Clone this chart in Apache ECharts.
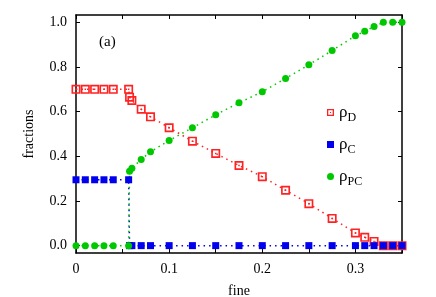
<!DOCTYPE html>
<html>
<head>
<meta charset="utf-8">
<script src="https://cdn.jsdelivr.net/npm/echarts@6/dist/echarts.min.js"></script>
<style>html,body{margin:0;padding:0;background:#fff;}#c{width:436px;height:297px;}</style>
</head>
<body>
<div id="c"></div>
<script>
var fine = [0, 0.01, 0.02, 0.03, 0.04, 0.0565, 0.0575, 0.06, 0.07, 0.08, 0.1, 0.125, 0.15, 0.175, 0.2, 0.225, 0.25, 0.275, 0.3, 0.31, 0.32, 0.33, 0.34, 0.35];
var rhoD = [0.70, 0.70, 0.70, 0.70, 0.70, 0.70, 0.665, 0.65, 0.611, 0.577, 0.528, 0.468, 0.413, 0.359, 0.309, 0.248, 0.188, 0.122, 0.057, 0.037, 0.019, 0, 0, 0];
var rhoC = [0.295, 0.295, 0.295, 0.295, 0.295, 0.295, 0, 0, 0, 0, 0, 0, 0, 0, 0, 0, 0, 0, 0, 0, 0, 0, 0, 0];
var rhoPC = [0, 0, 0, 0, 0, 0, 0.333, 0.347, 0.386, 0.42, 0.471, 0.528, 0.586, 0.64, 0.689, 0.749, 0.81, 0.874, 0.94, 0.96, 0.981, 1.0, 1.0, 1.0];
var xLabels = [0, 0.1, 0.2, 0.3];
var xTicks = [0, 0.05, 0.1, 0.15, 0.2, 0.25, 0.3, 0.35];
var yTicks = [0, 0.2, 0.4, 0.6, 0.8, 1.0];
var names = ['ρD', 'ρC', 'ρPC'];

function pairs(ys) { return fine.map(function (x, i) { return [x, ys[i]]; }); }

var FONT = 'Liberation Serif';
var RED = '#f22', BLUE = '#0000ee', GREEN = '#00c800';
var redSym = 'path://M0,0H12V12H0Z M2.2,2.2V9.8H9.8V2.2Z M5,5H7V7H5Z';

function axisLine() { return { show: true, onZero: false, lineStyle: { color: '#000', width: 1.5 } }; }
function ticks(vals) { return { show: true, inside: true, length: 4, customValues: vals, lineStyle: { color: '#000', width: 1 } }; }

var chart = echarts.init(document.getElementById('c'), null, { renderer: 'canvas' });
chart.setOption({
  animation: false,
  backgroundColor: '#fff',
  textStyle: { fontFamily: FONT },
  grid: { left: 76, right: 34, top: 15, bottom: 44, containLabel: false, outerBoundsMode: 'none' },
  xAxis: [
    {
      type: 'value', min: 0, max: 0.35, position: 'bottom',
      name: 'fine', nameLocation: 'middle', nameGap: 31,
      nameTextStyle: { fontFamily: FONT, fontSize: 14, color: '#000' },
      axisLine: axisLine(), splitLine: { show: false }, axisTick: ticks(xTicks),
      axisLabel: { show: true, margin: 9, customValues: xLabels, fontFamily: FONT, fontSize: 14, color: '#000',
        formatter: function (v) { return v === 0 ? '0' : v.toFixed(1); } }
    },
    {
      type: 'value', min: 0, max: 0.35, position: 'top',
      axisLine: axisLine(), splitLine: { show: false }, axisTick: ticks(xTicks),
      axisLabel: { show: false }
    }
  ],
  yAxis: [
    {
      type: 'value', min: -0.033, max: 1.033, position: 'left',
      name: 'fractions', nameLocation: 'middle', nameGap: 40,
      nameTextStyle: { fontFamily: FONT, fontSize: 14, color: '#000' },
      axisLine: axisLine(), splitLine: { show: false }, axisTick: ticks(yTicks),
      axisLabel: { show: true, margin: 9, customValues: yTicks, fontFamily: FONT, fontSize: 14, color: '#000',
        formatter: function (v) { return v.toFixed(1); } }
    },
    {
      type: 'value', min: -0.033, max: 1.033, position: 'right',
      axisLine: axisLine(), splitLine: { show: false }, axisTick: ticks(yTicks),
      axisLabel: { show: false }
    }
  ],
  legend: {
    orient: 'vertical', left: 322, top: 96, itemGap: 9,
    itemWidth: 7, itemHeight: 7,
    data: [
      { name: names[0], icon: redSym },
      { name: names[1], icon: 'rect' },
      { name: names[2], icon: 'circle' }
    ],
    formatter: function (n) { return '{r|ρ}{s|' + n.slice(1) + '}'; },
    textStyle: {
      fontFamily: FONT, color: '#000',
      rich: {
        r: { fontFamily: FONT, fontSize: 17, color: '#000', lineHeight: 20 },
        s: { fontFamily: FONT, fontSize: 12, color: '#000', padding: [11, 0, 0, 0], lineHeight: 20 }
      }
    }
  },
  graphic: [
    { type: 'text', left: 99, top: 35, style: { text: '(a)', fontFamily: FONT, fontSize: 15, fill: '#000' } }
  ],
  series: [
    { name: names[0], type: 'line', data: pairs(rhoD), symbol: redSym, symbolSize: 9,
      itemStyle: { color: RED, borderWidth: 0 }, lineStyle: { color: RED, width: 1.5, type: [1.5, 4] } },
    { name: names[1], type: 'line', data: pairs(rhoC), symbol: 'rect', symbolSize: 7,
      itemStyle: { color: BLUE, borderWidth: 0 }, lineStyle: { color: BLUE, width: 1.5, type: [1.5, 4] } },
    { name: names[2], type: 'line', data: pairs(rhoPC), symbol: 'circle', symbolSize: 7,
      itemStyle: { color: GREEN, borderWidth: 0 }, lineStyle: { color: GREEN, width: 1.5, type: [1.5, 4] } }
  ]
});
</script>
</body>
</html>
